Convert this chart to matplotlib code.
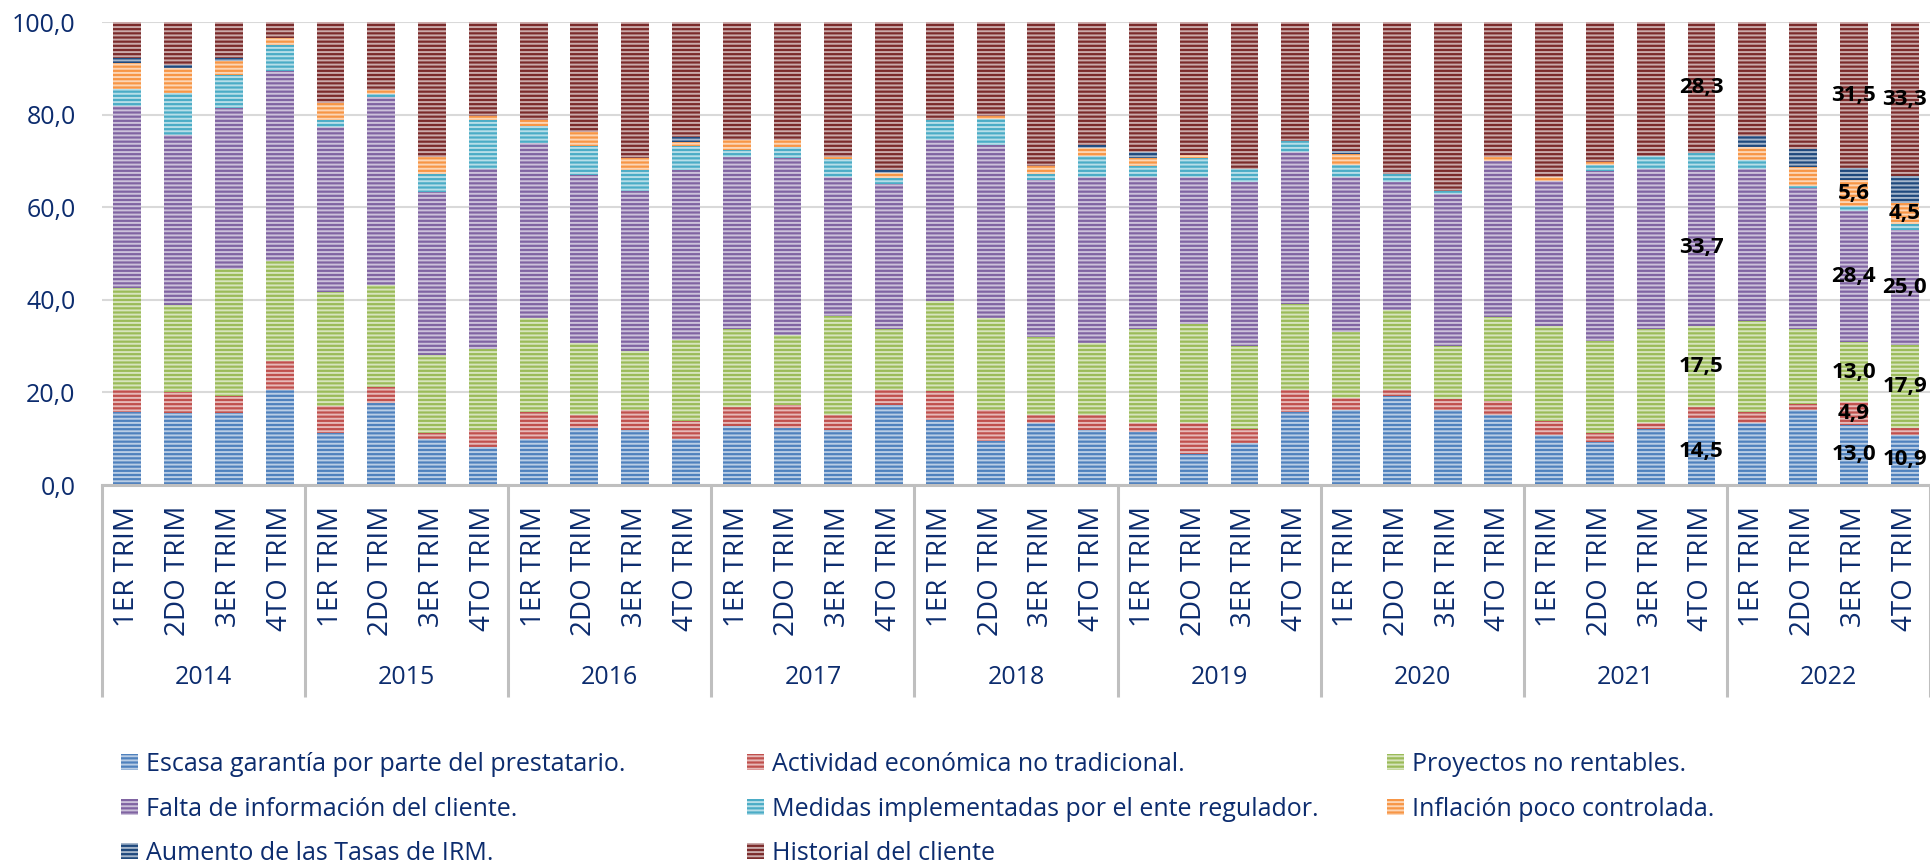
import numpy as np
import matplotlib
matplotlib.use("Agg")
import matplotlib.pyplot as plt
from matplotlib import colors as mcolors

plt.rcParams['font.family'] = ['Open Sans', 'DejaVu Sans']
plt.rcParams['hatch.linewidth'] = 1.4

# --- datos ---
years = ["2014", "2015", "2016", "2017", "2018", "2019", "2020", "2021", "2022"]
quarters = ["1ER TRIM", "2DO TRIM", "3ER TRIM", "4TO TRIM"]

series_names = [
    "Escasa garantía por parte del prestatario.",
    "Actividad económica no tradicional.",
    "Proyectos no rentables.",
    "Falta de información del cliente.",
    "Medidas implementadas por el ente regulador.",
    "Inflación poco controlada.",
    "Aumento de las Tasas de IRM.",
    "Historial del cliente",
]

garantia = [15.7, 15.5, 15.5, 20.6, 11.2, 17.7, 9.9, 8.2, 9.9, 12.3, 11.8, 9.9,
            12.7, 12.3, 11.8, 17.3, 14.0, 9.5, 13.4, 11.8, 11.5, 6.7, 9.0, 15.7,
            16.2, 19.2, 16.2, 15.1, 10.8, 9.2, 12.1, 14.5, 13.3, 16.2, 13.0, 10.9]
actividad = [4.9, 4.5, 3.7, 6.2, 5.8, 3.5, 1.3, 3.6, 5.8, 2.8, 4.4, 3.9,
             4.1, 5.0, 3.3, 3.3, 6.3, 6.7, 1.7, 3.3, 1.8, 6.6, 3.0, 4.9,
             2.6, 1.3, 2.4, 3.0, 3.0, 2.0, 1.2, 2.4, 2.4, 1.3, 4.9, 1.4]
proyectos = [21.9, 18.9, 27.6, 21.7, 24.7, 22.1, 16.9, 17.7, 20.3, 15.7, 12.8, 17.5,
             16.9, 15.2, 21.4, 13.1, 19.4, 19.8, 16.8, 15.7, 20.4, 21.4, 18.0, 18.5,
             14.2, 17.3, 11.4, 18.2, 20.5, 19.9, 20.4, 17.5, 19.7, 16.2, 13.0, 17.9]
falta_info = [39.5, 36.7, 34.8, 41.1, 35.6, 40.5, 35.2, 38.9, 37.9, 36.2, 34.5, 36.8,
              37.3, 38.1, 30.0, 31.3, 34.8, 37.6, 34.0, 35.7, 32.8, 31.8, 35.4, 32.8,
              33.5, 27.6, 33.0, 33.7, 31.4, 36.7, 34.7, 33.7, 33.0, 30.6, 28.4, 25.0]
medidas = [3.7, 9.1, 7.0, 5.6, 1.6, 0.8, 3.9, 10.4, 3.8, 6.3, 4.7, 5.2,
           1.4, 2.4, 3.9, 1.3, 4.3, 5.6, 1.3, 4.6, 2.4, 4.2, 3.0, 2.4,
           2.6, 1.8, 0.5, 0.0, 0.0, 1.3, 2.8, 3.6, 1.8, 0.3, 1.0, 1.3]
inflacion = [5.5, 5.4, 3.1, 1.4, 3.6, 0.7, 3.8, 0.9, 1.1, 2.9, 2.4, 0.8,
             2.1, 1.5, 0.6, 1.1, 0.0, 0.5, 1.7, 1.7, 1.8, 0.6, 0.0, 0.0,
             2.5, 0.0, 0.0, 1.0, 0.8, 0.7, 0.0, 0.0, 2.8, 4.1, 5.6, 4.5]
tasas_irm = [1.0, 0.7, 0.7, 0.0, 0.0, 0.0, 0.0, 0.0, 0.0, 0.0, 0.0, 1.1,
             0.0, 0.0, 0.0, 0.6, 0.0, 0.0, 0.0, 0.6, 1.2, 0.0, 0.0, 0.0,
             0.7, 0.0, 0.0, 0.0, 0.0, 0.0, 0.0, 0.0, 2.4, 4.0, 2.6, 5.7]
historial = [7.8, 9.2, 7.6, 3.4, 17.5, 14.7, 29.0, 20.3, 21.2, 23.8, 29.4, 24.8,
             25.5, 25.5, 29.0, 32.0, 21.2, 20.3, 31.1, 26.6, 28.1, 28.7, 31.6, 25.7,
             27.7, 32.8, 36.5, 29.0, 33.5, 30.2, 28.8, 28.3, 24.6, 27.3, 31.5, 33.3]

series = [garantia, actividad, proyectos, falta_info, medidas, inflacion, tasas_irm, historial]
colores = ["#4F81BD", "#C0504D", "#9BBB59", "#8064A2", "#4BACC6", "#F79646", "#1F497D", "#7B2B2B"]

# etiquetas de datos: (barra, serie)
etiquetas = [(31, 0), (31, 2), (31, 3), (31, 7),
             (34, 0), (34, 1), (34, 2), (34, 3), (34, 5), (34, 7),
             (35, 0), (35, 2), (35, 3), (35, 5), (35, 7)]

azul_texto = "#0C2C6E"
W, H = 1930, 867

fig = plt.figure(figsize=(W / 100, H / 100), dpi=100)
ax = fig.add_axes([102 / W, 1 - 485 / H, 1 - 102 / W, (485 - 22.4) / H])

n = len(years) * len(quarters)
x = np.arange(n)
bottom = np.zeros(n)
barras = []
bottoms = []
for vals, c, name in zip(series, colores, series_names):
    rgb = np.array(mcolors.to_rgb(c))
    claro = tuple(rgb * 0.4 + 0.6)
    b = ax.bar(x, vals, bottom=bottom, width=0.55, color=c, edgecolor=claro,
               linewidth=0, hatch='----', label=name, zorder=2)
    barras.append(b)
    bottoms.append(bottom.copy())
    bottom = bottom + np.array(vals)

for i, s in etiquetas:
    v = series[s][i]
    ax.text(i, bottoms[s][i] + v / 2, f"{v:.1f}".replace(".", ","), ha='center', va='center',
            fontsize=16, fontweight='bold', color='black', zorder=5)

ax.set_xlim(-0.5, n - 0.5)
ax.set_ylim(0, 100)
ax.set_yticks(np.arange(0, 101, 20))
ax.set_yticklabels([f"{v:.1f}".replace(".", ",") for v in np.arange(0, 101, 20)],
                   fontsize=18, color=azul_texto)
ax.yaxis.grid(True, color='#D9D9D9', lw=1.5)
ax.set_axisbelow(True)
ax.tick_params(axis='y', length=0, pad=19)

ax.set_xticks(x)
ax.set_xticklabels(quarters * len(years), rotation=90, fontsize=20, color=azul_texto)
ax.tick_params(axis='x', length=0, pad=15)

for sp in ['top', 'right', 'left']:
    ax.spines[sp].set_visible(False)
ax.spines['bottom'].set_color('#BFBFBF')
ax.spines['bottom'].set_linewidth(2.2)

trans = ax.get_xaxis_transform()
for k, yr in enumerate(years):
    ax.text(4 * k + 1.5, -0.417, yr, transform=trans, ha='center', va='center',
            fontsize=18, color=azul_texto)
for k in range(len(years) + 1):
    ax.plot([4 * k - 0.5] * 2, [0, -0.458], transform=trans, color='#BFBFBF',
            lw=2.2, clip_on=False, solid_capstyle='butt')

# leyenda en tres columnas
col_x = [121, 747, 1387]
for col in range(3):
    idx = list(range(col, len(series), 3))
    fig.legend([barras[i] for i in idx], [series_names[i] for i in idx],
               loc='upper left', bbox_to_anchor=(col_x[col] / W, 1 - 752 / H),
               frameon=False, fontsize=18, labelcolor=azul_texto,
               handlelength=0.68, handleheight=0.62, handletextpad=0.3,
               labelspacing=0.78, borderpad=0, borderaxespad=0)

fig.savefig("out.png", dpi=100)
